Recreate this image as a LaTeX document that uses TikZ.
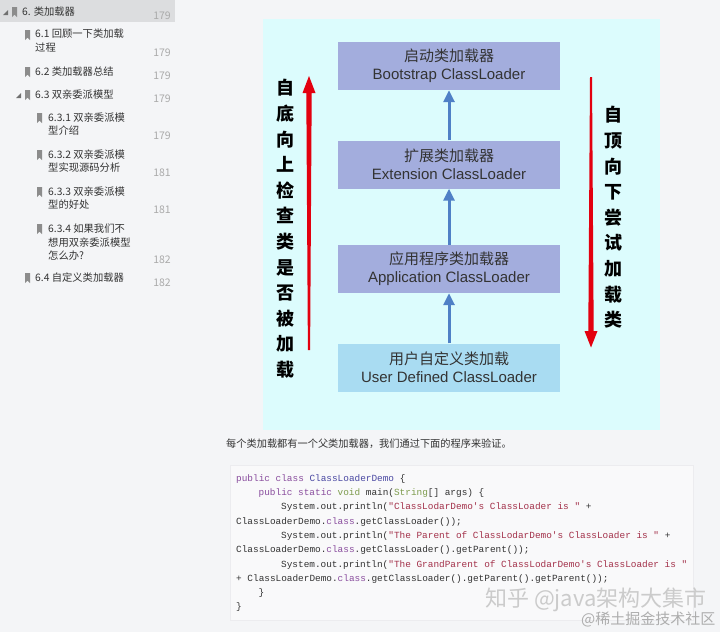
\documentclass[tikz,border=0pt]{standalone}
\usepackage{fontspec}
\setmainfont{Liberation Sans}
\newfontfamily\cjk{Noto Sans CJK SC}
\newfontfamily\codefont{Liberation Mono}
\usetikzlibrary{arrows.meta}
\definecolor{pagebg}{HTML}{F4F5F7}
\definecolor{selbg}{HTML}{DCDDDF}
\definecolor{sidetxt}{HTML}{333333}
\definecolor{pagenum}{HTML}{AAAAAA}
\definecolor{iconc}{HTML}{8C8C8C}
\definecolor{diagbg}{HTML}{DCFCFD}
\definecolor{boxlav}{HTML}{A3ADDD}
\definecolor{boxsky}{HTML}{A9DCF2}
\definecolor{bluearr}{HTML}{4F80C6}
\definecolor{redarr}{HTML}{E3000F}
\definecolor{codebg}{HTML}{F9F9FA}
\definecolor{codeedge}{HTML}{ECECEF}
\definecolor{kwc}{HTML}{8A4E9E}
\definecolor{cnc}{HTML}{4A48A2}
\definecolor{tyc}{HTML}{7E9C4E}
\definecolor{stc}{HTML}{A3314A}
\definecolor{codetxt}{HTML}{333333}
\definecolor{wmark}{HTML}{CBCBCB}
\newcommand\ckw[1]{\textcolor{kwc}{#1}}
\newcommand\ccn[1]{\textcolor{cnc}{#1}}
\newcommand\cty[1]{\textcolor{tyc}{#1}}
\newcommand\cst[1]{\textcolor{stc}{#1}}
\tikzset{
  sideitem/.style={anchor=west, inner sep=0pt, text=sidetxt, font=\cjk\fontsize{10.3}{12}\selectfont},
  pnum/.style={anchor=center, inner sep=0pt, text=pagenum, font=\cjk\fontsize{10.5}{12}\selectfont},
  loaderbox/.style={minimum width=222pt, minimum height=48pt, inner sep=0pt, align=center,
     text=sidetxt, font=\fontsize{15}{18}\selectfont},
  lav/.style={loaderbox, fill=boxlav},
  sky/.style={loaderbox, fill=boxsky},
  uparrow/.style={draw=bluearr, line width=3pt, -{Triangle[width=11pt,length=12pt]}},
  vtext/.style={align=center, inner sep=0pt, text=black, font=\cjk\bfseries\fontsize{18}{25.6}\selectfont},
  codeline/.style={anchor=base west, inner sep=0pt, text=codetxt, font=\codefont\fontsize{9.4}{11}\selectfont},
  bookmark/.style={fill=iconc},
  expander/.style={fill=iconc!80!black}
}
\begin{document}
\begin{tikzpicture}[x=1pt,y=-1pt]
\useasboundingbox (0,0) rectangle (720,632);
\fill[pagebg] (0,0) rectangle (720,632);
% ---------- sidebar ----------
\fill[selbg] (0,0) rectangle (175,22);
\fill[expander] (3,15) -- (8,10) -- (8,15) -- cycle;
\fill[bookmark] (12,7) -- (17,7) -- (17,17) -- (14.5,14.5) -- (12,17) -- cycle;
\node[sideitem] (s6) at (22,12) {6. 类加载器};
\node[pnum] (p6) at (162,16) {179};

\fill[bookmark] (25,30) -- (30,30) -- (30,40) -- (27.5,37.5) -- (25,40) -- cycle;
\node[sideitem] (s61a) at (35,34) {6.1 回顾一下类加载};
\node[sideitem] (s61b) at (35,48) {过程};
\node[pnum] (p61) at (162,53) {179};

\fill[bookmark] (25,67) -- (30,67) -- (30,77) -- (27.5,74.5) -- (25,77) -- cycle;
\node[sideitem] (s62) at (35,72) {6.2 类加载器总结};
\node[pnum] (p62) at (162,76) {179};

\fill[expander] (16,98) -- (21,93) -- (21,98) -- cycle;
\fill[bookmark] (25,90) -- (30,90) -- (30,100) -- (27.5,97.5) -- (25,100) -- cycle;
\node[sideitem] (s63) at (35,95) {6.3 双亲委派模型};
\node[pnum] (p63) at (162,99) {179};

\fill[bookmark] (37,113) -- (42,113) -- (42,123) -- (39.5,120.5) -- (37,123) -- cycle;
\node[sideitem] (s631a) at (48,118) {6.3.1 双亲委派模};
\node[sideitem] (s631b) at (48,131) {型介绍};
\node[pnum] (p631) at (162,136) {179};

\fill[bookmark] (37,150) -- (42,150) -- (42,160) -- (39.5,157.5) -- (37,160) -- cycle;
\node[sideitem] (s632a) at (48,155) {6.3.2 双亲委派模};
\node[sideitem] (s632b) at (48,168) {型实现源码分析};
\node[pnum] (p632) at (162,173) {181};

\fill[bookmark] (37,187) -- (42,187) -- (42,197) -- (39.5,194.5) -- (37,197) -- cycle;
\node[sideitem] (s633a) at (48,192) {6.3.3 双亲委派模};
\node[sideitem] (s633b) at (48,205) {型的好处};
\node[pnum] (p633) at (162,210) {181};

\fill[bookmark] (37,224) -- (42,224) -- (42,234) -- (39.5,231.5) -- (37,234) -- cycle;
\node[sideitem] (s634a) at (48,229) {6.3.4 如果我们不};
\node[sideitem] (s634b) at (48,243) {想用双亲委派模型};
\node[sideitem] (s634c) at (48,256) {怎么办?};
\node[pnum] (p634) at (162,260) {182};

\fill[bookmark] (25,273) -- (30,273) -- (30,283) -- (27.5,280.5) -- (25,283) -- cycle;
\node[sideitem] (s64) at (35,278) {6.4 自定义类加载器};
\node[pnum] (p64) at (162,283) {182};

% ---------- diagram ----------
\fill[diagbg] (263,19) rectangle (660,430);
\node[lav] (boot) at (449,66) {{\cjk 启动类加载器}\\Bootstrap ClassLoader};
\node[lav] (ext) at (449,164.5) {{\cjk 扩展类加载器}\\Extension ClassLoader};
\node[lav] (app) at (449,269) {{\cjk 应用程序类加载器}\\Application ClassLoader};
\node[sky] (user) at (449,367.5) {{\cjk 用户自定义类加载}\\User Defined ClassLoader};
\draw[uparrow] (ext.north) -- (boot.south);
\draw[uparrow] (app.north) -- (ext.south);
\draw[uparrow] (user.north) -- (app.south);

% red arrows
\fill[redarr] (309,76) -- (315.5,93) -- (311.7,93) -- (310.1,350) -- (307.9,350) -- (306.3,93) -- (302.5,93) -- cycle;
\fill[redarr] (590,77) -- (592,77) -- (593.7,331) -- (597.5,331) -- (591,347.5) -- (584.5,331) -- (588.3,331) -- cycle;

\node[vtext] (lefttext) at (285,229) {自\\底\\向\\上\\检\\查\\类\\是\\否\\被\\加\\载};
\node[vtext] (righttext) at (613,217.5) {自\\顶\\向\\下\\尝\\试\\加\\载\\类};

% ---------- paragraph ----------
\node[anchor=west, inner sep=0pt, text=sidetxt, font=\cjk\fontsize{10.2}{12}\selectfont] (para) at (226,444)
  {每个类加载都有一个父类加载器，我们通过下面的程序来验证。};

% ---------- code ----------
\fill[codebg, draw=codeedge, line width=0.6pt] (230,465) rectangle (693,620);
\begin{scope}[every node/.style={codeline}]
\node (c1) at (236,481.3) {\ckw{public} \ckw{class} \ccn{ClassLoaderDemo} \{};
\node (c2) at (258.5,495.3) {\ckw{public} \ckw{static} \cty{void} main(\cty{String}[] args) \{};
\node (c3) at (281,509.3) {System.out.println(\cst{"ClassLodarDemo's ClassLoader is "} +};
\node (c4) at (236,524.3) {ClassLoaderDemo.\ckw{class}.getClassLoader());};
\node (c5) at (281,538.3) {System.out.println(\cst{"The Parent of ClassLodarDemo's ClassLoader is "} +};
\node (c6) at (236,552.3) {ClassLoaderDemo.\ckw{class}.getClassLoader().getParent());};
\node (c7) at (281,567.3) {System.out.println(\cst{"The GrandParent of ClassLodarDemo's ClassLoader is "}};
\node (c8) at (236,581.3) {+ ClassLoaderDemo.\ckw{class}.getClassLoader().getParent().getParent());};
\node (c9) at (258.5,595.3) {\}};
\node (c10) at (236,609.3) {\}};
\end{scope}

% ---------- watermarks ----------
\node[anchor=west, inner sep=0pt, text=wmark, font=\cjk\fontsize{22}{24}\selectfont] (wm1) at (485,600) {知乎 @java架构大集市};
\node[anchor=west, inner sep=0pt, text=wmark!85!black, font=\cjk\fontsize{15}{17}\selectfont] (wm2) at (581,619) {@稀土掘金技术社区};
\end{tikzpicture}
\end{document}
